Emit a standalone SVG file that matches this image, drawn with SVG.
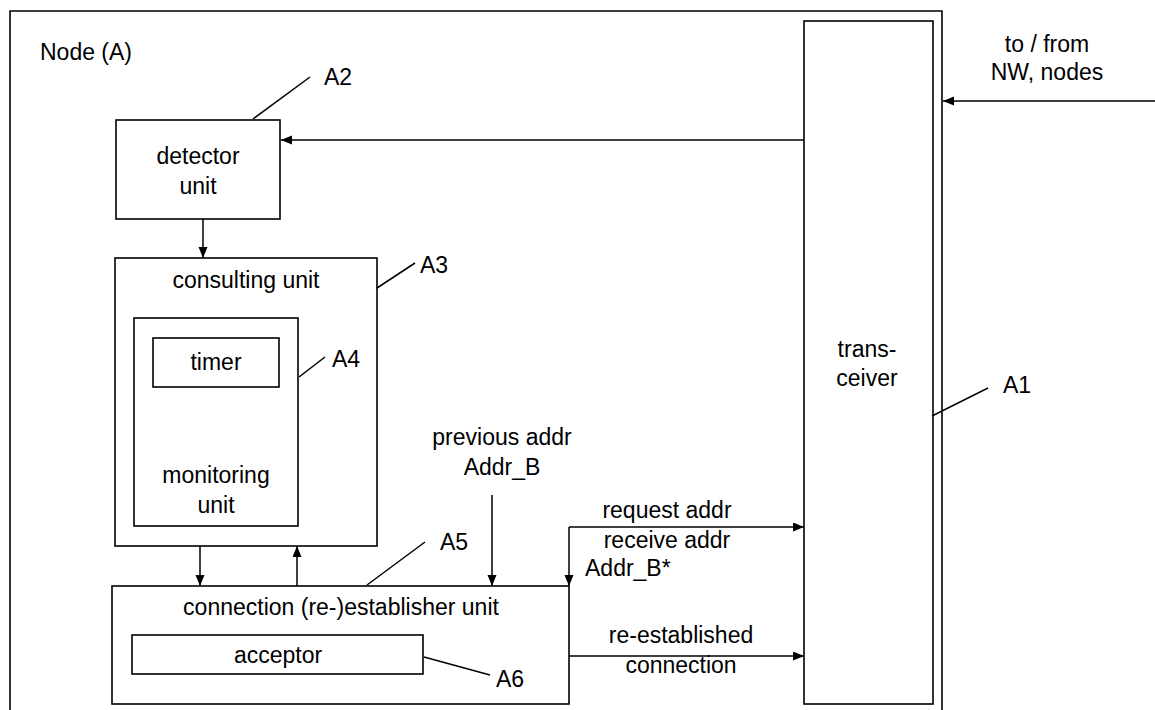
<svg xmlns="http://www.w3.org/2000/svg" width="1155" height="710" viewBox="0 0 1155 710">
<defs>
<marker id="ah" markerUnits="userSpaceOnUse" markerWidth="12" markerHeight="10" refX="11" refY="4.5" orient="auto">
<path d="M0,0 L11,4.5 L0,9 z" fill="#000"/>
</marker>
<style>
.box{fill:none;stroke:#000;stroke-width:1.6}
.ln{fill:none;stroke:#000;stroke-width:1.5}
.ar{fill:none;stroke:#000;stroke-width:1.5;marker-end:url(#ah)}
text{font-family:"Liberation Sans",Arial,sans-serif;font-size:23px;fill:#000}
.c{text-anchor:middle}
</style>
</defs>
<rect width="1155" height="710" fill="#fff"/>
<g id="nodeA">
<path class="box" d="M10,712 V11 H942 V712" stroke-width="2"/>
<text x="40" y="60">Node (A)</text>
</g>
<g id="transceiver">
<rect class="box" x="804" y="21" width="129" height="683"/>
<text class="c" x="867" y="357">trans-</text>
<text class="c" x="867" y="386">ceiver</text>
<line class="ln" x1="932" y1="416" x2="988" y2="388"/>
<text x="1003" y="393">A1</text>
</g>
<g id="detector">
<rect class="box" x="116" y="120" width="164" height="99"/>
<text class="c" x="198" y="164">detector</text>
<text class="c" x="198" y="194">unit</text>
<line class="ln" x1="253" y1="119" x2="310" y2="77"/>
<text x="324" y="85">A2</text>
</g>
<g id="consulting">
<rect class="box" x="115" y="258" width="262" height="288"/>
<text class="c" x="246" y="288">consulting unit</text>
<line class="ln" x1="377" y1="288" x2="415" y2="263"/>
<text x="420" y="273">A3</text>
</g>
<g id="monitoring">
<rect class="box" x="134" y="318" width="164" height="208"/>
<text class="c" x="216" y="483">monitoring</text>
<text class="c" x="216" y="513">unit</text>
<line class="ln" x1="299" y1="377" x2="325" y2="357"/>
<text x="332" y="367">A4</text>
</g>
<g id="timer">
<rect class="box" x="153" y="338" width="126" height="49"/>
<text class="c" x="216" y="370">timer</text>
</g>
<g id="connection">
<rect class="box" x="112" y="586" width="457" height="118"/>
<text class="c" x="341" y="615">connection (re-)establisher unit</text>
<line class="ln" x1="367" y1="585" x2="425" y2="542"/>
<text x="440" y="550">A5</text>
</g>
<g id="acceptor">
<rect class="box" x="132" y="635" width="291" height="39"/>
<text class="c" x="278" y="663">acceptor</text>
<line class="ln" x1="424" y1="657" x2="490" y2="675"/>
<text x="496" y="687">A6</text>
</g>
<g id="labels">
<text class="c" x="1047" y="52">to / from</text>
<text class="c" x="1047" y="80">NW, nodes</text>
<text class="c" x="502" y="445">previous addr</text>
<text class="c" x="502" y="475">Addr_B</text>
<text class="c" x="667" y="518">request addr</text>
<text class="c" x="667" y="548">receive addr</text>
<text x="585" y="576">Addr_B*</text>
<text class="c" x="681" y="643">re-established</text>
<text class="c" x="681" y="673">connection</text>
</g>
<g id="connectors">
<line class="ar" x1="1155" y1="101" x2="943" y2="101"/>
<line class="ar" x1="804" y1="140" x2="281" y2="140"/>
<line class="ar" x1="203" y1="219" x2="203" y2="258"/>
<line class="ar" x1="200" y1="546" x2="200" y2="586"/>
<line class="ar" x1="297" y1="586" x2="297" y2="546"/>
<line class="ar" x1="492" y1="495" x2="492" y2="586"/>
<line class="ar" x1="569" y1="527" x2="804" y2="527"/>
<line class="ar" x1="569" y1="527" x2="569" y2="586"/>
<line class="ar" x1="569" y1="656" x2="804" y2="656"/>
</g>
</svg>
